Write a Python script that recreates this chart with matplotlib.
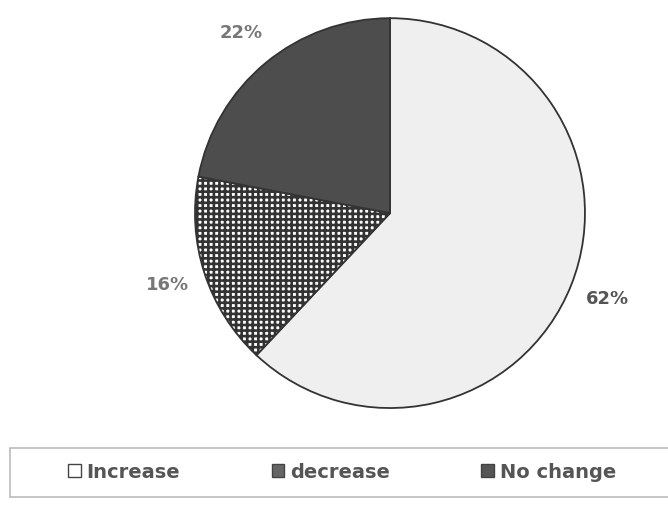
import matplotlib.pyplot as plt
from matplotlib.patches import Patch, Rectangle

plt.rcParams['font.family'] = ['DejaVu Sans']
plt.rcParams['hatch.linewidth'] = 1.9

labels = ['Increase', 'decrease', 'No change']
shares = [62, 16, 22]
colors = ['#efefef', 'white', '#4d4d4d']
hatches = ['', '+++', '']
pct_colors = ['#555555', '#777777', '#777777']

fig = plt.figure(figsize=(6.68, 5.05), dpi=100)
ax = fig.add_axes([0.2919, 0.192, 0.5838, 0.772])

wedges, texts, autotexts = ax.pie(
    shares, colors=colors, startangle=90, counterclock=False, radius=1,
    autopct='%d%%', pctdistance=1.2,
    wedgeprops=dict(edgecolor='#333333', linewidth=1.3),
    textprops=dict(fontsize=13, fontweight='bold'))

for w, h in zip(wedges, hatches):
    if h:
        w.set_hatch(h)
for t, c in zip(autotexts, pct_colors):
    t.set_color(c)

ax.set_xlim(-1, 1)
ax.set_ylim(-1, 1)
ax.set_aspect('auto')
ax.axis('off')

# legend frame across the bottom
frame = Rectangle((10 / 668, 8 / 505), 0.99, 49 / 505, transform=fig.transFigure,
                  facecolor='white', edgecolor='#bbbbbb', linewidth=1.2)
fig.patches.append(frame)

handles = [Patch(facecolor=c, edgecolor='#444444', linewidth=1)
           for c in ['white', '#666666', '#555555']]
fig.legend(handles, labels, ncol=3, loc='center', bbox_to_anchor=(0.512, 0.065),
           frameon=False, handlelength=0.65, handleheight=0.65, handletextpad=0.3,
           columnspacing=4.7, prop=dict(size=14, weight='bold'), labelcolor='#555555')

fig.savefig('out.png', dpi=100)
